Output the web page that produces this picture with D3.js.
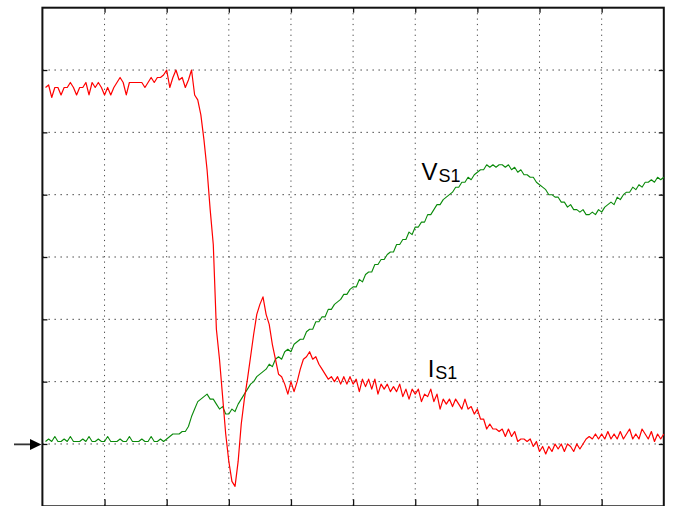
<!DOCTYPE html>
<html>
<head>
<meta charset="utf-8">
<script src="https://cdn.jsdelivr.net/npm/d3@7"></script>
<style>
  html, body { margin: 0; padding: 0; background: #fff; }
  svg { display: block; }
</style>
</head>
<body>
<svg id="scope" width="673" height="506"></svg>
<script>
// Screen: 10 horizontal divisions, 8 vertical divisions at 25 ADC codes per division.
const divisionsX = 10;
const codesPerDiv = 25;
const divisionsY = 8;

// Sample index -> time in divisions (0.05 div per sample)
const sampleTimes = d3.range(1, 201).map(k => k * 0.05);

// Switch current I_S1 (ADC codes)
const currentS1 = [
  168,169,164,168,168,165,168,168,170,168,
  165,168,168,170,165,170,168,170,168,165,
  168,165,168,170,172,170,165,170,170,170,
  170,170,168,170,172,170,172,172,173,175,
  168,172,175,171,172,168,171,175,165,163,
  157,147,135,119,105,71,59,44,29,18,
  10,8,18,33,43,51,60,69,77,81,
  84,77,73,65,59,53,52,49,45,50,
  46,50,55,59,60,62,59,60,57,55,
  53,51,52,50,52,49,52,49,52,49,
  51,46,51,48,51,47,51,45,49,47,
  49,46,48,46,49,44,47,43,47,45,
  47,42,45,44,47,42,45,39,43,41,
  43,40,43,41,39,43,39,40,37,39,
  35,35,31,33,31,31,30,31,28,31,
  28,30,26,27,27,26,27,24,26,22,
  24,21,24,22,25,23,25,22,25,24,
  22,25,23,25,27,28,27,29,27,29,
  27,30,27,29,27,30,27,29,31,27,
  29,27,31,29,27,30,26,29,27,29
];

// Switch voltage V_S1 (ADC codes)
const voltageS1 = [
  26,27,26,28,26,26,27,26,28,26,
  26,26,27,26,28,26,26,27,26,26,
  28,26,26,26,27,26,26,28,26,26,
  26,27,26,26,28,26,26,27,26,27,
  28,29,29,29,30,30,32,36,39,42,
  43,44,45,43,43,41,39,40,37,37,
  39,38,41,43,45,47,49,50,52,53,
  54,55,57,56,59,60,59,62,63,62,
  65,66,67,67,70,71,71,74,74,76,
  76,79,79,81,82,83,85,85,87,88,
  88,91,90,93,94,94,97,97,99,99,
  101,102,102,105,105,107,107,110,109,112,
  112,114,114,117,117,119,121,121,123,124,
  125,126,128,128,130,130,132,131,133,134,
  135,135,137,136,137,136,137,137,136,137,
  135,136,134,135,133,133,132,132,130,129,
  128,127,125,125,124,124,122,122,120,121,
  119,119,118,119,117,117,118,117,119,118,
  120,121,122,121,124,123,125,126,126,128,
  127,129,128,130,130,131,130,132,131,132
];

// Trace labels: main letter, subscript, anchor (time div, code)
const traceLabels = [
  { main: "V", sub: "S1", t: 6.1, code: 131 },
  { main: "I", sub: "S1", t: 6.2, code: 52 }
];

// Ground reference marker level for channel 2
const groundLevel = 25;

const svg = d3.select("#scope");
const x = d3.scaleLinear().domain([0, divisionsX]).range([42.4, 663.8]);
const y = d3.scaleLinear().domain([0, divisionsY * codesPerDiv]).range([506.3, 7.7]);

const xGrid = d3.range(1, divisionsX);
const yGrid = d3.range(1, divisionsY).map(d => d * codesPerDiv);

// Dotted graticule
const grid = svg.append("g");
grid.selectAll("line.v").data(xGrid).join("line")
  .attr("x1", d => x(d)).attr("x2", d => x(d))
  .attr("y1", y(200)).attr("y2", y(0))
  .attr("stroke", "#444").attr("stroke-width", 1)
  .attr("stroke-dasharray", "1.2,4.2");
grid.selectAll("line.h").data(yGrid).join("line")
  .attr("x1", x(0)).attr("x2", x(10))
  .attr("y1", d => y(d)).attr("y2", d => y(d))
  .attr("stroke", "#555").attr("stroke-width", 1)
  .attr("stroke-dasharray", "1.6,4.4");

// Border ticks via d3 axes
const tickLen = 5;
svg.append("g").attr("transform", `translate(0,${y(200)})`)
  .call(d3.axisBottom(x).tickValues(xGrid).tickSize(tickLen).tickFormat(""))
  .call(g => g.select(".domain").remove());
svg.append("g").attr("transform", `translate(0,${y(0)})`)
  .call(d3.axisTop(x).tickValues(xGrid).tickSize(tickLen + 2).tickFormat(""))
  .call(g => g.select(".domain").remove());
svg.append("g").attr("transform", `translate(${x(0)},0)`)
  .call(d3.axisRight(y).tickValues(yGrid).tickSize(tickLen).tickFormat(""))
  .call(g => g.select(".domain").remove());
svg.append("g").attr("transform", `translate(${x(10)},0)`)
  .call(d3.axisLeft(y).tickValues(yGrid).tickSize(tickLen).tickFormat(""))
  .call(g => g.select(".domain").remove());
svg.selectAll(".tick line").attr("stroke", "#111").attr("stroke-width", 1.3);

// Frame
svg.append("rect")
  .attr("x", x(0)).attr("y", y(200))
  .attr("width", x(10) - x(0)).attr("height", y(0) - y(200))
  .attr("fill", "none").attr("stroke", "#111").attr("stroke-width", 2);

// Traces
const line = d3.line().x(d => x(d[0])).y(d => y(d[1]));
svg.append("path")
  .datum(sampleTimes.map((t, i) => [t, voltageS1[i]]))
  .attr("d", line).attr("fill", "none")
  .attr("stroke", "#0a8a0a").attr("stroke-width", 1.1)
  .attr("stroke-linejoin", "round");
svg.append("path")
  .datum(sampleTimes.map((t, i) => [t, currentS1[i]]))
  .attr("d", line).attr("fill", "none")
  .attr("stroke", "#ff0000").attr("stroke-width", 1.2)
  .attr("stroke-linejoin", "round");

// Labels with subscripts
const labels = svg.append("g")
  .attr("font-family", "'Liberation Sans', Arial, Helvetica, sans-serif")
  .attr("fill", "#000");
traceLabels.forEach(l => {
  const txt = labels.append("text")
    .attr("x", x(l.t)).attr("y", y(l.code));
  txt.append("tspan").attr("font-size", 24).text(l.main);
  txt.append("tspan").attr("font-size", 18).attr("dy", 2.5).attr("dx", 1).text(l.sub);
});

// Ground marker arrow at the left edge
const gy = y(groundLevel) + 0.4;
svg.append("line")
  .attr("x1", 14).attr("x2", 32).attr("y1", gy).attr("y2", gy)
  .attr("stroke", "#333").attr("stroke-width", 1.8);
svg.append("path")
  .attr("d", `M${x(0) - 1},${gy} L30,${gy - 5.5} L30,${gy + 5.5} Z`)
  .attr("fill", "#000");
</script>
</body>
</html>
